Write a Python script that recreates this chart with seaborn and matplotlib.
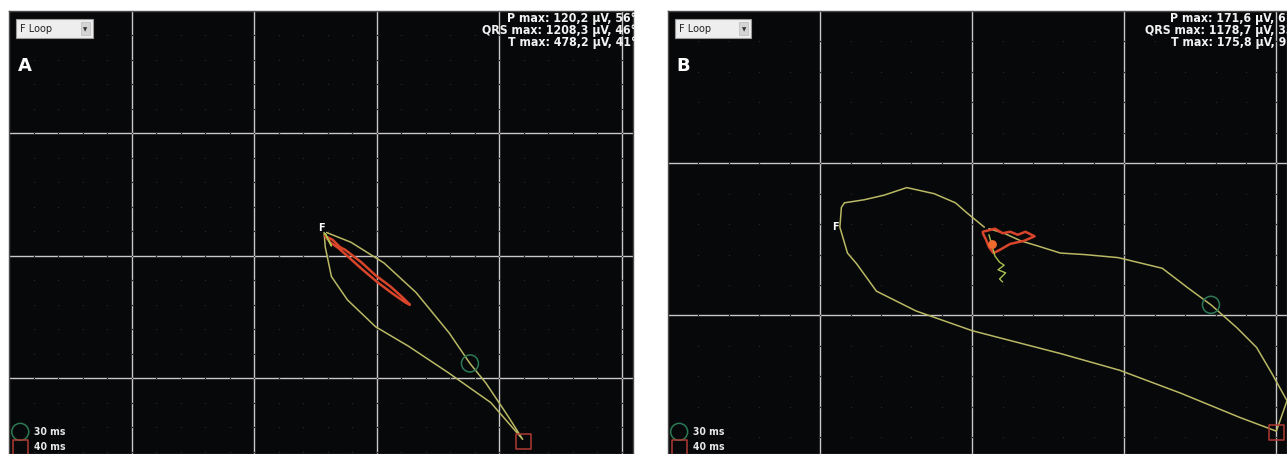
import matplotlib.pyplot as plt
import matplotlib.patches as mpatches
import seaborn as sns
import numpy as np
import pandas as pd

# Frontal-plane vector loops.
# Units: one major grid square = 1, y counted downwards from the top edge.

# Panel A
qrs_a_x = [2.57, 2.58, 2.63, 2.76, 2.99, 3.26, 3.59, 3.93, 4.19,
           4.07, 3.89, 3.76, 3.59, 3.32, 3.06, 2.79, 2.59]
qrs_a_y = [1.81, 1.93, 2.17, 2.36, 2.58, 2.74, 2.96, 3.20, 3.50,
           3.31, 3.04, 2.88, 2.63, 2.30, 2.06, 1.89, 1.81]
t_a_x = [2.58, 2.64, 2.70, 2.74, 2.87, 2.99, 3.11, 3.21, 3.27, 3.23,
         3.13, 3.01, 2.88, 2.78, 2.69, 2.62, 2.58]
t_a_y = [1.84, 1.87, 1.93, 1.95, 2.05, 2.16, 2.25, 2.34, 2.40, 2.38,
         2.31, 2.22, 2.11, 2.02, 1.94, 1.89, 1.84]
p_a_x = [2.58, 2.60, 2.63, 2.61, 2.58]
p_a_y = [1.82, 1.86, 1.92, 1.88, 1.82]
ms30_a = (3.76, 2.88)
ms40_a = (4.20, 3.52)
origin_a = (2.55, 1.77)

# Panel B
qrs_b_x = [2.08, 1.97, 1.89, 1.75, 1.57, 1.42, 1.29, 1.16, 1.14, 1.13, 1.18,
           1.24, 1.37, 1.63, 2.00, 2.58, 2.97, 3.37, 3.76, 4.00, 4.07, 3.97,
           3.87, 3.74, 3.57, 3.42, 3.25, 2.96, 2.74, 2.58, 2.42, 2.32, 2.21, 2.11]
qrs_b_y = [1.42, 1.33, 1.26, 1.20, 1.16, 1.21, 1.24, 1.26, 1.29, 1.42, 1.59,
           1.66, 1.84, 1.97, 2.10, 2.25, 2.36, 2.51, 2.67, 2.76, 2.56, 2.38,
           2.21, 2.08, 1.93, 1.82, 1.69, 1.62, 1.60, 1.59, 1.54, 1.51, 1.46, 1.43]
t_b_x = [2.07, 2.15, 2.20, 2.25, 2.30, 2.35, 2.41, 2.34, 2.25, 2.18, 2.14, 2.11, 2.09, 2.07]
t_b_y = [1.45, 1.43, 1.46, 1.45, 1.47, 1.45, 1.48, 1.51, 1.53, 1.57, 1.59, 1.55, 1.50, 1.46]
p_b_x = [2.11, 2.13, 2.15, 2.18, 2.21, 2.17, 2.22, 2.18, 2.20]
p_b_y = [1.47, 1.54, 1.61, 1.65, 1.67, 1.70, 1.72, 1.76, 1.78]
ms30_b = (3.57, 1.93)
ms40_b = (4.00, 2.77)
origin_b = (1.10, 1.42)

panel_labels = ["A", "B"]
readouts = [
    ["P max: 120,2 μV, 56°", "QRS max: 1208,3 μV, 46°", "T max: 478,2 μV, 41°"],
    ["P max: 171,6 μV, 61°", "QRS max: 1178,7 μV, 33°", "T max: 175,8 μV, 95°"],
]
legend_labels = ["30 ms", "40 ms"]

sns.set_style("dark")
plt.rcParams['font.family'] = ['DejaVu Sans']

BG = "#07080a"
LOOP = "#b9b864"
TRED = "#d8452a"
GRN = "#2b7a55"
SQR = "#b03a32"

fig = plt.figure(figsize=(12.87, 4.54), dpi=100)
ax_a = fig.add_axes([9 / 1287, 0, 624 / 1287, 443 / 454])
ax_b = fig.add_axes([668 / 1287, 0, 619 / 1287, 443 / 454])

panels = [
    (ax_a, qrs_a_x, qrs_a_y, t_a_x, t_a_y, p_a_x, p_a_y, ms30_a, ms40_a, origin_a, 5.09, 3.62, 1.006),
    (ax_b, qrs_b_x, qrs_b_y, t_b_x, t_b_y, p_b_x, p_b_y, ms30_b, ms40_b, origin_b, 4.07, 2.91, 1.02),
]

for i, (ax, qx, qy, tx, ty, px, py, m30, m40, org, xmax, ymax, txt_right) in enumerate(panels):
    ax.set_facecolor(BG)
    ax.set_xlim(0, xmax)
    ax.set_ylim(ymax, 0)

    # major grid
    ax.set_xticks(np.arange(1, xmax, 1))
    ax.set_yticks(np.arange(1, ymax, 1))
    ax.tick_params(length=0, labelbottom=False, labelleft=False)
    ax.grid(True, color="#c9c9c9", linewidth=1.0)
    for s in ax.spines.values():
        s.set_color("#4a4a4a")
        s.set_linewidth(1.0)

    # faint minor dots
    gx, gy = np.meshgrid(np.arange(0.2, xmax, 0.2), np.arange(0.2, ymax, 0.2))
    ax.scatter(gx.ravel(), gy.ravel(), s=1.0, color="#262626", linewidths=0, zorder=1)

    # loops
    sns.lineplot(x=qx, y=qy, sort=False, estimator=None, color=LOOP, linewidth=1.1, ax=ax, zorder=3)
    sns.lineplot(x=tx, y=ty, sort=False, estimator=None, color=TRED, linewidth=1.8, ax=ax, zorder=4)
    sns.lineplot(x=px, y=py, sort=False, estimator=None, color="#a8c050", linewidth=1.0, ax=ax, zorder=5)
    if i == 1:
        ax.scatter([2.13], [1.53], s=40, color="#f06a30", linewidths=0, zorder=5)

    # time markers
    ax.scatter([m30[0]], [m30[1]], s=150, facecolors="none", edgecolors=GRN, linewidths=1.1, zorder=6)
    ax.scatter([m40[0]], [m40[1]], s=120, marker="s", facecolors="none", edgecolors=SQR, linewidths=1.1, zorder=6)

    ax.text(org[0], org[1], "F", color="white", fontsize=7, fontweight="bold", ha="center", va="center")

    # readout text, top right (clipped by panel edge as in the screenshot)
    for k, line in enumerate(readouts[i]):
        t = ax.text(txt_right, 0.982 - k * 0.027, line, transform=ax.transAxes, ha="right", va="center",
                    color="#f2f2f2", fontsize=8.8, fontweight="bold", fontstretch="condensed")
        t.set_clip_path(ax.patch)

    # dropdown box
    ax.add_patch(mpatches.Rectangle((0.012, 0.939), 0.122, 0.043, transform=ax.transAxes,
                                    facecolor="#eeeeee", edgecolor="#9a9a9a", linewidth=0.8, zorder=7))
    ax.add_patch(mpatches.Rectangle((0.115, 0.946), 0.015, 0.029, transform=ax.transAxes,
                                    facecolor="#d4d4d4", edgecolor="#bbbbbb", linewidth=0.5, zorder=8))
    ax.text(0.018, 0.960, "F Loop", transform=ax.transAxes, ha="left", va="center",
            color="#222222", fontsize=7, zorder=9)
    ax.text(0.1225, 0.958, "▼", transform=ax.transAxes, ha="center", va="center",
            color="#333333", fontsize=4, zorder=9)

    # panel letter
    ax.text(0.014, 0.876, panel_labels[i], transform=ax.transAxes, ha="left", va="center",
            color="white", fontsize=13, fontweight="bold")

    # bottom-left legend
    ax.scatter([0.018], [0.05], s=150, facecolors="none", edgecolors=GRN, linewidths=1.1,
               transform=ax.transAxes, zorder=6)
    ax.scatter([0.018], [0.015], s=120, marker="s", facecolors="none", edgecolors=SQR, linewidths=1.1,
               transform=ax.transAxes, zorder=6)
    ax.text(0.04, 0.05, legend_labels[0], transform=ax.transAxes, ha="left", va="center",
            color="#e8e8e8", fontsize=7.5, fontweight="bold", fontstretch="condensed")
    ax.text(0.04, 0.015, legend_labels[1], transform=ax.transAxes, ha="left", va="center",
            color="#e8e8e8", fontsize=7.5, fontweight="bold", fontstretch="condensed")

fig.savefig("out.png", dpi=100, facecolor="white")
